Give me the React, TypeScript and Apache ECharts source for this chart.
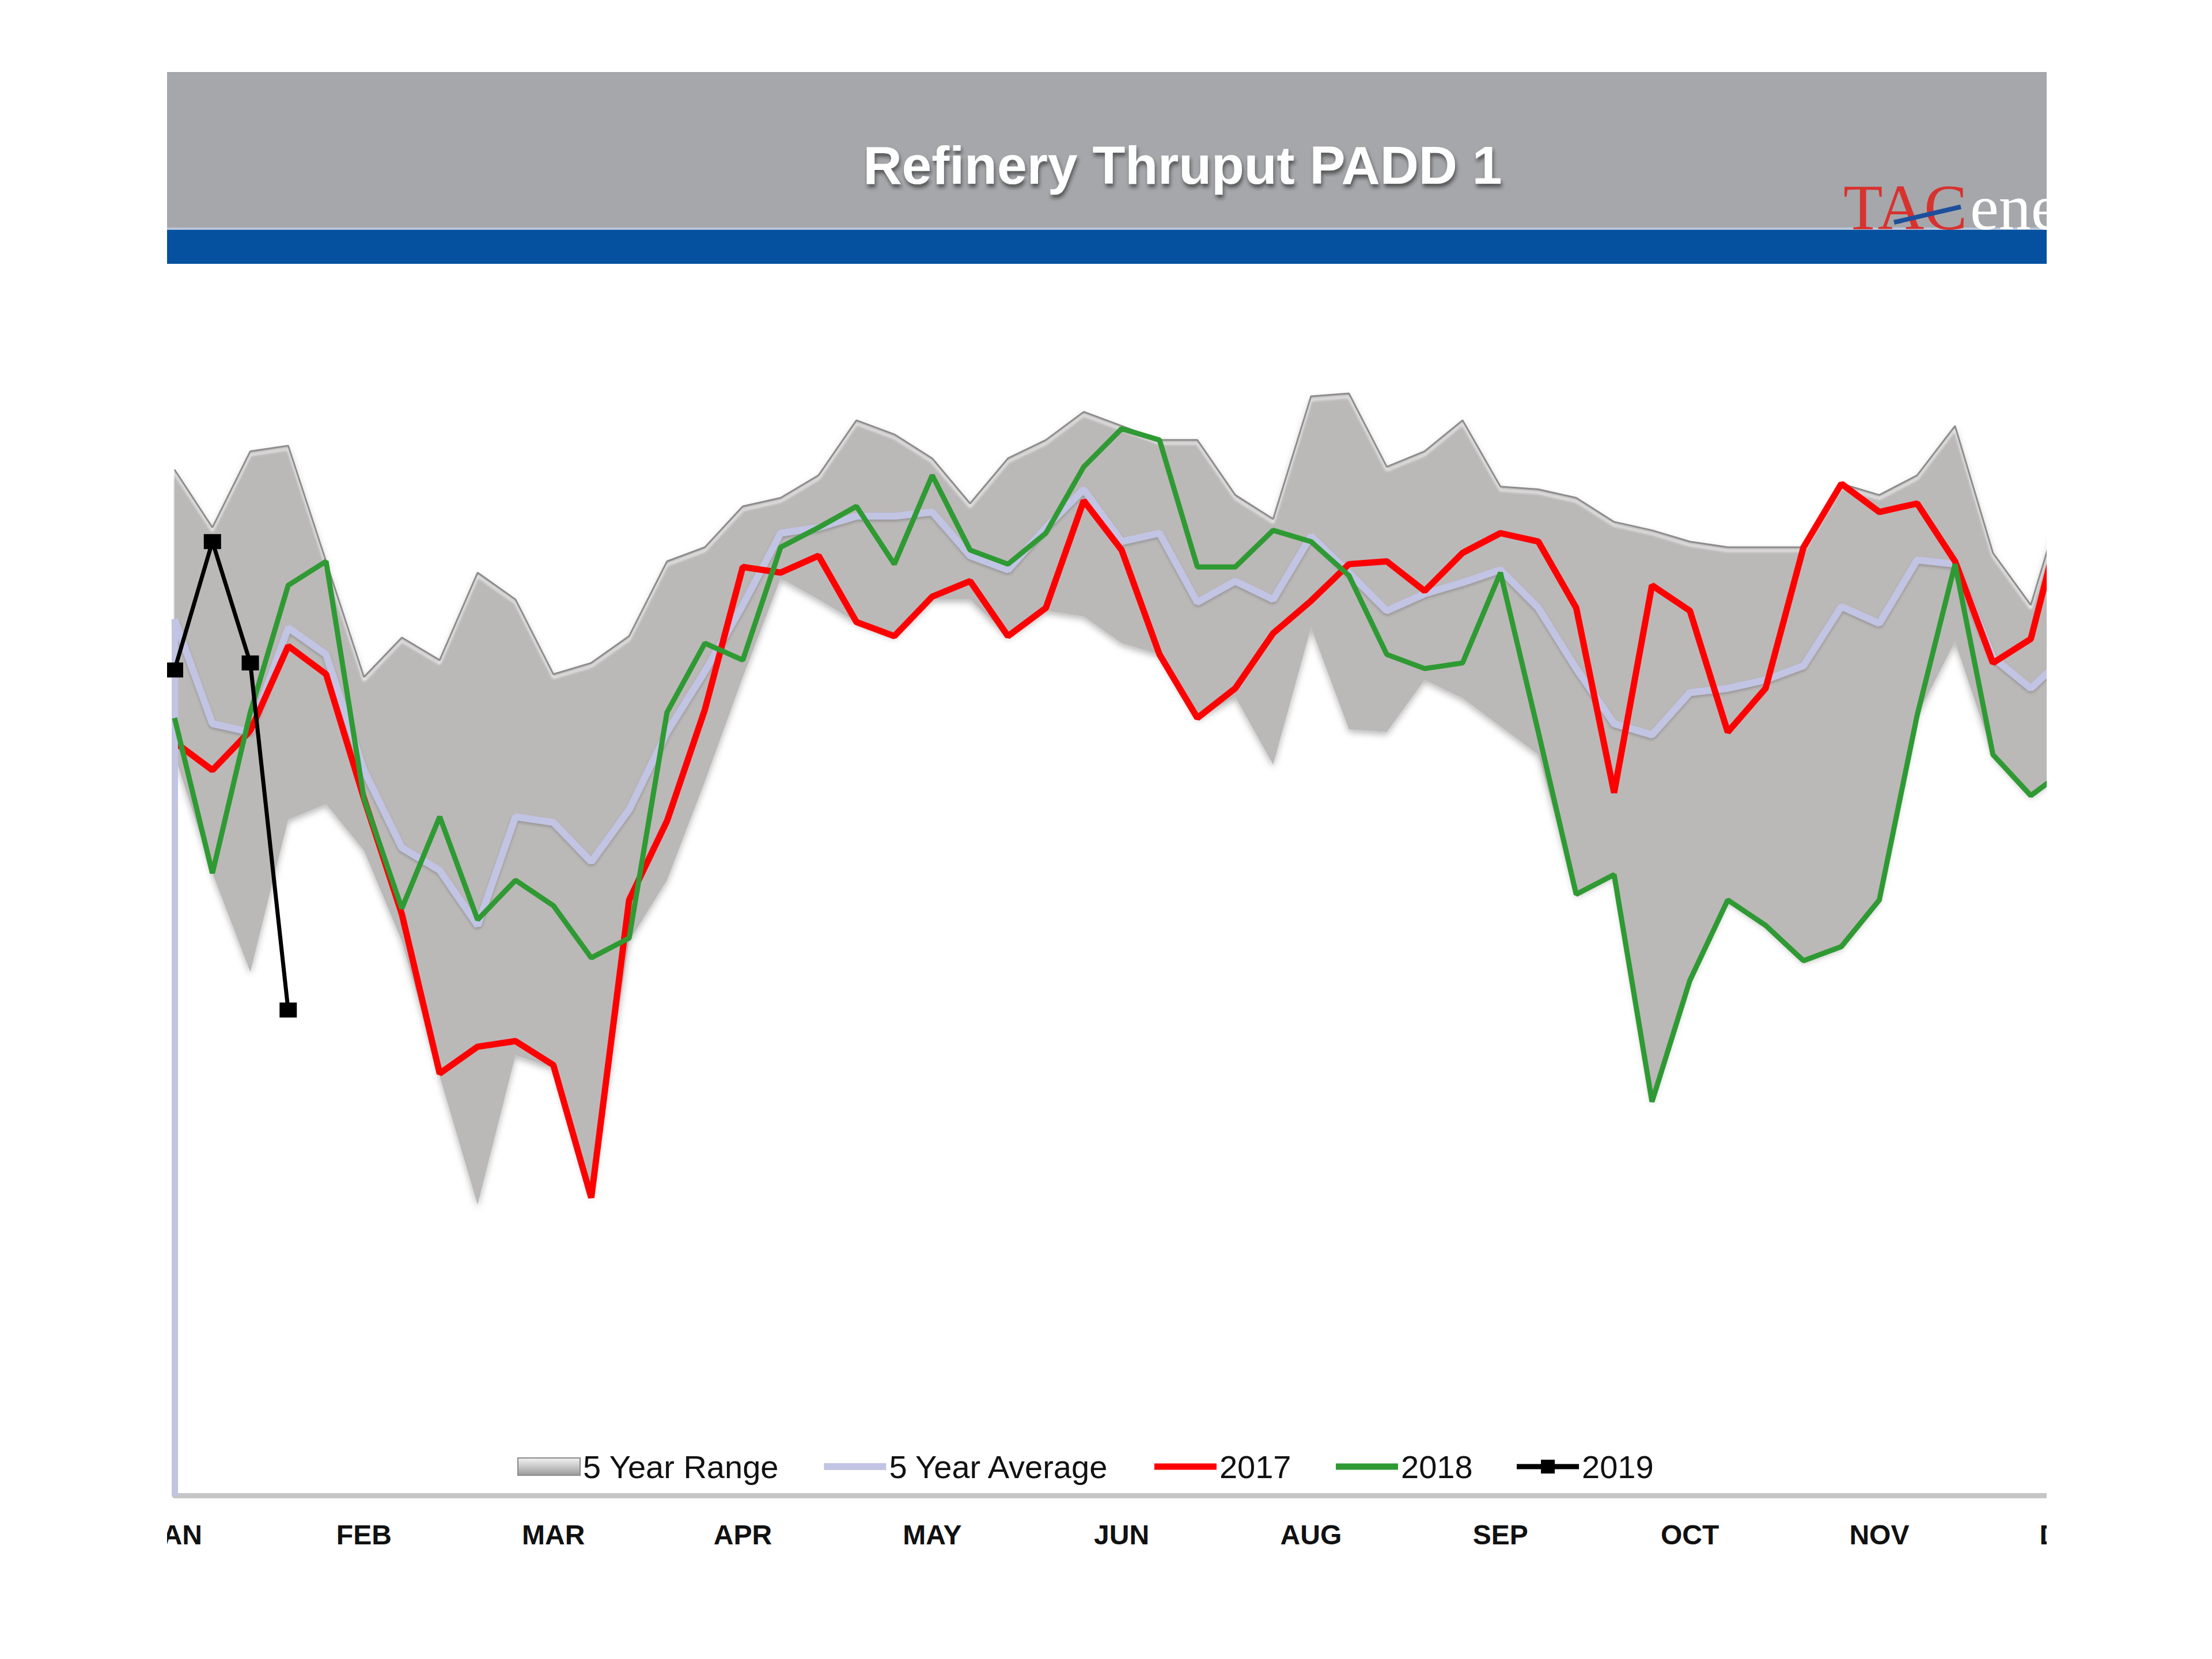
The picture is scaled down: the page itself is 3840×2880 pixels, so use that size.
import React, { useEffect, useRef } from "react";
import * as echarts from "echarts";

// ---- Data (kb/d; y axis is hidden in the original) ----
const WEEKS: string[] = [
  "W1","W2","W3","W4","W5","W6","W7","W8","W9","W10","W11","W12","W13",
  "W14","W15","W16","W17","W18","W19","W20","W21","W22","W23","W24","W25","W26",
  "W27","W28","W29","W30","W31","W32","W33","W34","W35","W36","W37","W38","W39",
  "W40","W41","W42","W43","W44","W45","W46","W47","W48","W49","W50","W51","W52",
];
const MONTH_LABELS = ["JAN", "FEB", "MAR", "APR", "MAY", "JUN", "AUG", "SEP", "OCT", "NOV", "DEC"];

const RANGE_HIGH = [
  1127, 1086, 1140, 1144, 1062, 980, 1008, 992, 1054, 1035, 982, 990, 1009,
  1062, 1072, 1101, 1107, 1123, 1162, 1152, 1135, 1103, 1135, 1148, 1168, 1158,
  1148, 1148, 1109, 1092, 1179, 1181, 1129, 1140, 1162, 1115, 1113, 1107, 1090,
  1084, 1076, 1072, 1072, 1072, 1117, 1109, 1123, 1158, 1068, 1031, 1120, 1110,
];
const RANGE_LOW = [
  925, 841, 771, 879, 890, 857, 793, 697, 606, 712, 703, 611, 793,
  836, 906, 980, 1050, 1035, 1019, 1009, 1035, 1035, 1009, 1027, 1023, 1004,
  996, 951, 966, 918, 1015, 943, 941, 978, 965, 945, 925, 826, 840,
  679, 765, 822, 804, 779, 789, 822, 953, 1005, 925, 896, 916, 920,
];
const AVG_5Y = [
  1021, 947, 941, 1015, 996, 914, 859, 843, 804, 881, 877, 849, 886,
  941, 984, 1031, 1082, 1086, 1094, 1094, 1097, 1066, 1056, 1086, 1113, 1076,
  1082, 1033, 1048, 1035, 1080, 1054, 1027, 1039, 1047, 1056, 1029, 986, 947,
  939, 969, 972, 978, 988, 1030, 1018, 1063, 1060, 994, 972, 997, 1000,
];
const Y2017 = [
  934, 914, 942, 1002, 982, 894, 812, 699, 718, 722, 705, 611, 822,
  878, 957, 1058, 1054, 1066, 1019, 1009, 1037, 1048, 1009, 1029, 1105, 1070,
  996, 951, 972, 1011, 1034, 1060, 1062, 1041, 1068, 1082, 1076, 1029, 898,
  1045, 1027, 941, 972, 1072, 1117, 1097, 1103, 1062, 990, 1007, 1112, 1090,
];
const Y2018 = [
  951, 841, 955, 1045, 1062, 894, 816, 881, 808, 836, 818, 781, 795,
  955, 1004, 992, 1072, 1086, 1101, 1060, 1123, 1070, 1060, 1082, 1129, 1156,
  1148, 1058, 1058, 1084, 1076, 1052, 996, 986, 990, 1054, 941, 826, 840,
  679, 765, 822, 804, 779, 789, 822, 953, 1060, 925, 896, 916, 930,
];
const Y2019: (number | null)[] = [985, 1076, 990, 744];

const Y_MIN = 400;
const Y_MAX = 1250;

const C_AVG = "#c2c4e4";
const C_2017 = "#ff0000";
const C_2018 = "#2f9a33";
const C_2019 = "#000000";

export default function App() {
  const ref = useRef<HTMLDivElement>(null);

  useEffect(() => {
    if (!ref.current) return;
    const chart = echarts.init(ref.current, null, { renderer: "svg" });

    const rangeSpan = RANGE_HIGH.map((h, i) => h - RANGE_LOW[i]);
    const noSymbol = { color: "rgba(0,0,0,0)", borderWidth: 0 };

    const option: any = {
      animation: false,
      backgroundColor: "#ffffff",
      grid: {
        left: 13,
        top: 514,
        width: 3354,
        height: 2082,
        containLabel: false,
        outerBoundsMode: "none",
      },
      xAxis: {
        type: "category",
        data: WEEKS,
        boundaryGap: false,
        axisLine: {
          show: true,
          onZero: false,
          lineStyle: { color: "#c6c6c6", width: 9 },
        },
        axisTick: { show: false },
        splitLine: { show: false },
        axisLabel: {
          interval: 4,
          margin: 44,
          color: "#111111",
          fontSize: 48,
          fontWeight: "bold",
          fontFamily: "Liberation Sans, Arial, sans-serif",
          formatter: (_v: string, idx: number) => MONTH_LABELS[Math.round(idx / 5)] ?? "",
        },
      },
      yAxis: {
        type: "value",
        min: Y_MIN,
        max: Y_MAX,
        show: false,
        splitLine: { show: false },
      },
      legend: {
        left: 603,
        top: 2513,
        orient: "horizontal",
        itemWidth: 108,
        itemHeight: 30,
        itemGap: 72,
        textStyle: {
          fontSize: 56,
          color: "#111111",
          fontFamily: "Liberation Sans, Arial, sans-serif",
        },
        data: [
          {
            name: "5 Year Range",
            icon: "rect",
            itemStyle: {
              color: new echarts.graphic.LinearGradient(0, 0, 0, 1, [
                { offset: 0, color: "#f2f2f2" },
                { offset: 0.5, color: "#c8c8c8" },
                { offset: 1, color: "#9a9a9a" },
              ]),
              borderColor: "#8a8a8a",
              borderWidth: 2,
            },
          },
          { name: "5 Year Average", itemStyle: noSymbol, lineStyle: { color: C_AVG, width: 12 } },
          { name: "2017", itemStyle: noSymbol, lineStyle: { color: C_2017, width: 11 } },
          { name: "2018", itemStyle: noSymbol, lineStyle: { color: C_2018, width: 11 } },
          { name: "2019", lineStyle: { color: C_2019, width: 9 } },
        ],
      },
      graphic: [
        {
          type: "rect",
          z: -10,
          shape: { x: 0, y: 125, width: 3500, height: 272 },
          style: { fill: "#a6a7aa" },
        },
        {
          type: "rect",
          z: -9,
          shape: { x: 0, y: 395, width: 3500, height: 4 },
          style: { fill: "#b9c6da" },
        },
        {
          type: "rect",
          z: -9,
          shape: { x: 0, y: 399, width: 3500, height: 59 },
          style: { fill: "#0551a0" },
        },
        {
          type: "text",
          z: 10,
          x: 1763,
          y: 287,
          style: {
            text: "Refinery Thruput PADD 1",
            fill: "#ffffff",
            font: 'bold 93px "Liberation Sans", Arial, sans-serif',
            align: "center",
            verticalAlign: "middle",
            textAlign: "center",
            textVerticalAlign: "middle",
            textShadowColor: "rgba(30,30,30,0.6)",
            textShadowBlur: 6,
            textShadowOffsetX: 2,
            textShadowOffsetY: 6,
          },
        },
        {
          type: "text",
          z: 10,
          x: 2910,
          y: 360,
          style: {
            text: "TAC",
            fill: "#d8322f",
            font: '112px "Liberation Serif", "Times New Roman", serif',
            align: "left",
            verticalAlign: "middle",
          },
        },
        {
          type: "text",
          z: 10,
          x: 3130,
          y: 360,
          style: {
            text: "ene",
            fill: "#ffffff",
            font: '112px "Liberation Serif", "Times New Roman", serif',
            align: "left",
            verticalAlign: "middle",
          },
        },
        {
          type: "line",
          z: 11,
          shape: { x1: 2998, y1: 386, x2: 3114, y2: 359 },
          style: { stroke: "#1d4f9c", lineWidth: 8 },
        },
      ],
      series: [
        {
          name: "rangeBase",
          type: "line",
          data: RANGE_LOW,
          stack: "range",
          symbol: "none",
          silent: true,
          lineStyle: { opacity: 0, width: 0 },
          z: 1,
        },
        {
          name: "5 Year Range",
          type: "line",
          data: rangeSpan,
          stack: "range",
          symbol: "none",
          silent: true,
          lineStyle: {
            color: "#8d8d8d",
            width: 3,
            shadowColor: "rgba(255,255,255,0.9)",
            shadowBlur: 4,
            shadowOffsetY: 6,
          },
          itemStyle: { color: "#bbb8b8" },
          areaStyle: {
            color: "#bbb8b8",
            opacity: 1,
            shadowColor: "rgba(0,0,0,0.28)",
            shadowBlur: 12,
            shadowOffsetY: 5,
          },
          z: 2,
        },
        {
          name: "5 Year Average",
          type: "line",
          data: AVG_5Y,
          symbol: "none",
          lineStyle: {
            color: C_AVG,
            width: 12,
            shadowColor: "rgba(0,0,0,0.2)",
            shadowBlur: 5,
            shadowOffsetY: 3,
          },
          itemStyle: { color: C_AVG },
          markLine: {
            silent: true,
            symbol: ["none", "none"],
            label: { show: false },
            lineStyle: { color: C_AVG, width: 11, type: "solid" },
            data: [[{ coord: [WEEKS[0], Y_MIN] }, { coord: [WEEKS[0], AVG_5Y[0]] }]],
          },
          z: 3,
        },
        {
          name: "2017",
          type: "line",
          data: Y2017,
          symbol: "none",
          lineStyle: { color: C_2017, width: 11 },
          itemStyle: { color: C_2017 },
          z: 4,
        },
        {
          name: "2018",
          type: "line",
          data: Y2018,
          symbol: "none",
          lineStyle: { color: C_2018, width: 9 },
          itemStyle: { color: C_2018 },
          z: 5,
        },
        {
          name: "2019",
          type: "line",
          data: Y2019,
          symbol: "rect",
          symbolSize: [30, 26],
          showSymbol: true,
          lineStyle: { color: C_2019, width: 7 },
          itemStyle: { color: C_2019 },
          z: 6,
        },
      ],
    };

    chart.setOption(option);
    return () => chart.dispose();
  }, []);

  return (
    <div
      style={{
        position: "fixed",
        left: 0,
        top: 0,
        width: 3840,
        height: 2880,
        background: "#ffffff",
        overflow: "hidden",
      }}
    >
      <div
        style={{
          position: "absolute",
          left: 290,
          top: 0,
          width: 3263,
          height: 2880,
          overflow: "hidden",
        }}
      >
        <div ref={ref} style={{ position: "absolute", left: 0, top: 0, width: 3500, height: 2880 }} />
      </div>
    </div>
  );
}
